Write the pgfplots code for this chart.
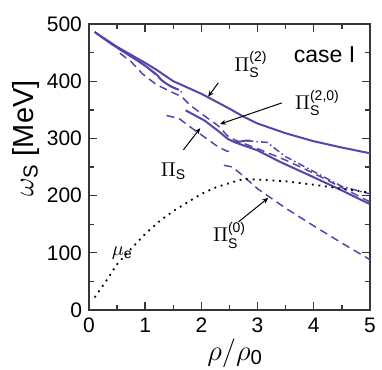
\documentclass[border=0pt]{standalone}
\usepackage{amsmath}
\usepackage{fontspec}
\setmainfont{Liberation Sans}
\usepackage{pgfplots}
\pgfplotsset{compat=1.18}
\usetikzlibrary{arrows.meta}
\definecolor{curve}{RGB}{88,68,170}
\definecolor{frame}{RGB}{55,55,55}

\begin{document}
\begin{tikzpicture}
\path[use as bounding box] (-44.5pt,-30pt) rectangle (146.5pt,155pt);
\begin{axis}[
  at={(0,0)}, anchor=south west,
  scale only axis, width=140.5pt, height=143pt,
  xmin=0, xmax=5, ymin=0, ymax=500,
  xtick={0,1,2,3,4,5}, ytick={0,100,200,300,400,500},
  minor xtick={0.5,1.5,2.5,3.5,4.5}, minor ytick={50,150,250,350,450},
  tick align=inside, major tick length=4pt, minor tick length=2.5pt,
  axis line style={frame, line width=0.7pt},
  every tick/.style={frame, line width=0.7pt},
  tick label style={font=\fontsize{10.5}{12}\selectfont, text=black},
  /pgf/number format/assume math mode=true,
  xticklabel style={yshift=-0.5pt},
  yticklabel style={xshift=0pt},
  xlabel={$\rho/\rho_{\text{0}}$},
  ylabel={$\omega_{\text{S}}$ [MeV]},
  label style={font=\fontsize{14.5}{16}\selectfont},
  xlabel style={at={(axis description cs:0.52,-0.15)}, anchor=center},
  ylabel style={at={(axis description cs:-0.225,0.6)}, anchor=center},
  clip=false,
]
% Pi_S^(2)
\addplot[curve, line width=1pt] coordinates {(0.1,486) (0.5,460) (1,432) (1.2,420) (1.5,400) (2,378) (2.5,352) (2.75,338) (3,326) (3.5,309) (4,295) (4.5,284) (5,274)};
% Pi_S solid, first piece
\addplot[curve, line width=1pt] coordinates {(0.1,486) (0.4,465) (0.8,440) (1.0,427) (1.2,412) (1.3,401) (1.45,391) (1.6,385)};
% Pi_S solid, second piece
\addplot[curve, line width=1pt] coordinates {(1.72,349) (2.06,331) (2.3,313) (2.47,299) (2.6,293) (2.78,296) (2.87,296)};
\addplot[curve, line width=1pt] coordinates {(2.6,293) (3,279) (3.4,259) (4,232) (4.5,209) (5,185)};
% dashed near start
\addplot[curve, line width=0.75pt, dash pattern=on 4pt off 2.5pt] coordinates {(0.3,472) (0.6,452) (0.9,434) (1.1,419) (1.3,401) (1.5,389) (1.65,381)};
% Pi_S^(2,0) dashed
\addplot[curve, line width=0.75pt, dash pattern=on 4pt off 2.5pt] coordinates {(0.55,449) (0.75,434) (0.95,413) (1.2,394) (1.45,382) (1.65,373) (1.8,358) (2.06,339) (2.3,322) (2.47,304) (2.6,297) (3,282) (3.5,262) (4,239) (4.5,214) (5,189)};
% lower dashed branch
\addplot[curve, line width=0.75pt, dash pattern=on 4pt off 2.5pt] coordinates {(1.38,340) (1.6,335) (1.83,318) (2.06,302) (2.3,285) (2.45,278) (2.55,276)};
% Pi_S^(0) dashed
\addplot[curve, line width=0.75pt, dash pattern=on 4pt off 2.5pt] coordinates {(2.4,253) (2.55,250) (2.7,238) (3,212) (3.5,178) (4,147) (4.5,117) (5,88)};
% dash-dot
\addplot[curve, line width=0.75pt, dash pattern=on 3.5pt off 1.5pt on 0.8pt off 1.5pt] coordinates {(2.8,296) (3.17,293) (3.3,283) (3.5,268) (4,242) (4.5,216) (5,203)};
% mu_e dotted
\addplot[black, line width=0.9pt, dash pattern=on 0.9pt off 2.4pt] coordinates {(0.1,22) (0.3,50) (0.5,80) (0.75,107) (1,133) (1.25,155) (1.5,173) (1.75,188) (2,203) (2.25,214) (2.5,222) (2.75,229) (3,228) (3.5,225) (4,219) (4.5,212) (5,205)};

% labels and arrows
\node[anchor=base west, inner sep=0pt, font=\fontsize{11.5}{13}\selectfont] at (axis cs:3.64,432) {case I};
\node[anchor=base west, inner sep=0pt, font=\fontsize{10}{12}\selectfont] at (axis cs:2.58,417) {$\Pi^{\text{(2)}}_{\text{S}}$};
\node[anchor=base west, inner sep=0pt, font=\fontsize{10}{12}\selectfont] at (axis cs:3.66,350) {$\Pi^{\text{(2,0)}}_{\text{S}}$};
\node[anchor=base west, inner sep=0pt, font=\fontsize{10}{12}\selectfont] at (axis cs:1.27,233) {$\Pi_{\text{S}}$};
\node[anchor=base west, inner sep=0pt, font=\fontsize{10}{12}\selectfont] at (axis cs:2.2,119) {$\Pi^{\text{(0)}}_{\text{S}}$};
\node[anchor=base west, inner sep=0pt, font=\fontsize{10}{12}\selectfont] at (axis cs:0.4,96) {$\mu_{\text{e}}$};
\draw[-{Stealth[length=3pt,width=2.5pt]}, line width=0.5pt] (axis cs:2.3,397) -- (axis cs:2.12,373);
\draw[-{Stealth[length=3pt,width=2.5pt]}, line width=0.5pt] (axis cs:3.43,362) -- (axis cs:2.33,325);
\draw[-{Stealth[length=3pt,width=2.5pt]}, line width=0.5pt] (axis cs:1.68,280) -- (axis cs:1.98,318);
\draw[-{Stealth[length=3pt,width=2.5pt]}, line width=0.5pt] (axis cs:2.66,154) -- (axis cs:3.19,196);
\end{axis}
\end{tikzpicture}
\end{document}
